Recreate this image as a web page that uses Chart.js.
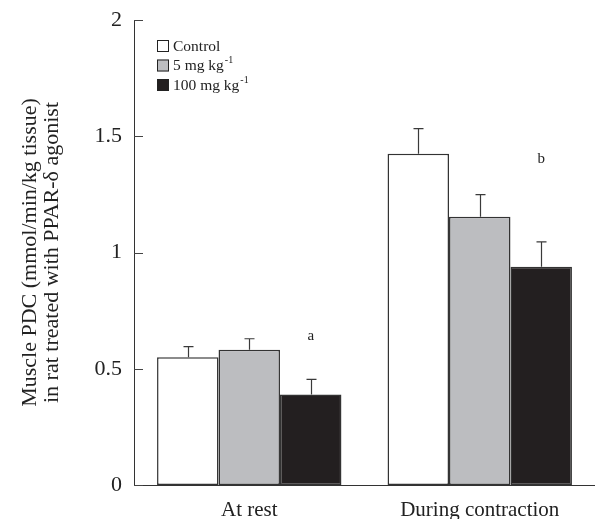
<!DOCTYPE html>
<html>
<head>
<meta charset="utf-8">
<script src="https://cdn.jsdelivr.net/npm/chart.js@4.4.1/dist/chart.umd.min.js"></script>
<style>
html,body{margin:0;padding:0;background:#fff;}
#wrap{width:595px;height:519px;position:relative;}
</style>
</head>
<body>
<div id="wrap"><canvas id="c" width="595" height="519"></canvas></div>
<script>
// ---- data ----
const categories = ['At rest', 'During contraction'];
const seriesNames = ['Control', '5 mg kg', '100 mg kg'];
const seriesSup = ['', '-1', '-1'];
const controlValues = [0.55, 1.425];
const lowDoseValues = [0.582, 1.154];
const highDoseValues = [0.389, 0.939];
const controlErrors = [0.045, 0.108];
const lowDoseErrors = [0.047, 0.095];
const highDoseErrors = [0.065, 0.107];
const sigLetters = ['a', 'b'];
const sigLevels = [0.64, 1.40];
const yTicks = [0, 0.5, 1, 1.5, 2];

const colors = ['#ffffff', '#bcbdc0', '#231f20'];
const FONT = '"Liberation Serif", "DejaVu Serif", serif';

const errorBars = {
  id: 'errorBars',
  afterDatasetsDraw(chart) {
    const ctx = chart.ctx;
    const y = chart.scales.y;
    ctx.save();
    ctx.strokeStyle = '#3a3a3a';
    ctx.lineWidth = 1.2;
    chart.data.datasets.forEach((ds, i) => {
      const meta = chart.getDatasetMeta(i);
      meta.data.forEach((bar, j) => {
        const top = y.getPixelForValue(ds.data[j] + ds.errors[j]);
        const x = Math.round(bar.x) + 0.5;
        ctx.beginPath();
        ctx.moveTo(x, bar.y);
        ctx.lineTo(x, top);
        ctx.moveTo(x - 5, top);
        ctx.lineTo(x + 5, top);
        ctx.stroke();
      });
    });
    ctx.fillStyle = '#222';
    ctx.font = '15px ' + FONT;
    ctx.textAlign = 'center';
    ctx.textBaseline = 'middle';
    const m2 = chart.getDatasetMeta(2);
    sigLetters.forEach((t, j) => {
      ctx.fillText(t, m2.data[j].x, y.getPixelForValue(sigLevels[j]));
    });
    ctx.restore();
  }
};

const inwardTicks = {
  id: 'inwardTicks',
  afterDraw(chart) {
    const ctx = chart.ctx;
    const y = chart.scales.y;
    const x0 = chart.chartArea.left;
    ctx.save();
    ctx.strokeStyle = '#444';
    ctx.lineWidth = 1;
    y.ticks.forEach(t => {
      const py = Math.round(y.getPixelForValue(t.value)) + 0.5;
      ctx.beginPath();
      ctx.moveTo(x0, py);
      ctx.lineTo(x0 + 9, py);
      ctx.stroke();
    });
    ctx.restore();
  }
};

const customLegend = {
  id: 'customLegend',
  afterDraw(chart) {
    const ctx = chart.ctx;
    const left = chart.chartArea.left + 23;
    const top = chart.chartArea.top + 20;
    ctx.save();
    chart.data.datasets.forEach((ds, i) => {
      const yy = top + i * 19.5;
      ctx.fillStyle = ds.backgroundColor;
      ctx.fillRect(left, yy, 12, 12);
      ctx.strokeStyle = '#222';
      ctx.lineWidth = 1;
      ctx.strokeRect(left + 0.5, yy + 0.5, 11, 11);
      ctx.fillStyle = '#222';
      ctx.textBaseline = 'middle';
      ctx.textAlign = 'left';
      ctx.font = '15.5px ' + FONT;
      const tx = left + 16;
      ctx.fillText(ds.label, tx, yy + 6.5);
      if (seriesSup[i]) {
        const w = ctx.measureText(ds.label).width;
        ctx.font = '10px ' + FONT;
        ctx.fillText(seriesSup[i], tx + w + 1, yy + 1);
      }
    });
    ctx.restore();
  }
};

const valueSets = [controlValues, lowDoseValues, highDoseValues];
const errorSets = [controlErrors, lowDoseErrors, highDoseErrors];

new Chart(document.getElementById('c'), {
  type: 'bar',
  data: {
    labels: categories,
    datasets: seriesNames.map((n, i) => ({
      label: n,
      data: valueSets[i],
      errors: errorSets[i],
      backgroundColor: colors[i],
      borderColor: '#333',
      borderWidth: 1.5,
      borderSkipped: false,
      categoryPercentage: 0.8,
      barPercentage: 1.0
    }))
  },
  options: {
    responsive: false,
    animation: false,
    devicePixelRatio: 1,
    layout: { padding: { top: 20, right: 0, left: 0, bottom: 0 } },
    plugins: { legend: { display: false }, tooltip: { enabled: false } },
    scales: {
      x: {
        grid: { display: false, drawTicks: false },
        border: { display: true, color: '#333', width: 1 },
        ticks: { color: '#222', font: { family: FONT, size: 21 }, padding: 13 },
        afterFit(s) { s.height = 34; s.paddingLeft = 0; s.paddingRight = 0; }
      },
      y: {
        min: 0, max: 2,
        grid: { display: false, drawTicks: false },
        border: { display: true, color: '#333', width: 1 },
        afterBuildTicks(s) { s.ticks = yTicks.map(v => ({ value: v })); },
        ticks: { color: '#222', font: { family: FONT, size: 22 }, padding: 12,
                 callback: v => String(v) },
        title: {
          display: true,
          text: ['Muscle PDC (mmol/min/kg tissue)', 'in rat treated with PPAR-δ agonist'],
          color: '#222',
          font: { family: FONT, size: 22, lineHeight: 1.0 },
          padding: { top: 19, bottom: 0 }
        },
        afterFit(s) { s.width = 134; s.paddingTop = 0; s.paddingBottom = 0; }
      }
    }
  },
  plugins: [errorBars, inwardTicks, customLegend]
});
</script>
</body>
</html>
